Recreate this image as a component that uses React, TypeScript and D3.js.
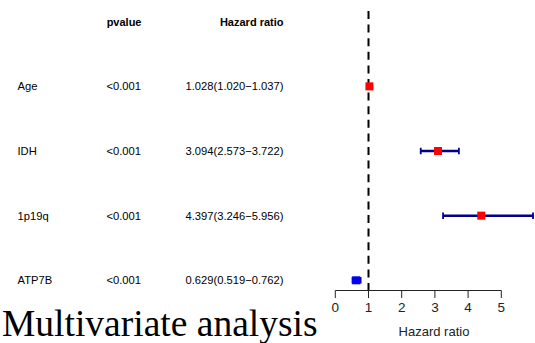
import React from "react";
import * as d3 from "d3";

// Multivariate Cox regression results
const variables = ["Age", "IDH", "1p19q", "ATP7B"];
const pvalues = ["<0.001", "<0.001", "<0.001", "<0.001"];
const hazardRatio = [1.028, 3.094, 4.397, 0.629];
const ciLower = [1.02, 2.573, 3.246, 0.519];
const ciUpper = [1.037, 3.722, 5.956, 0.762];
const xTicks = [0, 1, 2, 3, 4, 5];

const W = 535;
const H = 343;
const SANS = "'Liberation Sans', Arial, Helvetica, sans-serif";
const SERIF = "'Liberation Serif', 'Times New Roman', serif";

export default function App() {
  const x = d3.scaleLinear().domain([0, 5]).range([335.3, 501.3]);
  const y = d3
    .scalePoint<string>()
    .domain(["__header__", ...variables])
    .range([21.7, 280.3]);

  const axisY = 290.5;
  const dashTop = 11;
  const box = 8;
  const capH = 6.5;
  const fmt = d3.format(".3f");
  const hrText = (i: number) =>
    `${fmt(hazardRatio[i])}(${fmt(ciLower[i])}\u2212${fmt(ciUpper[i])})`;

  return (
    <svg
      width={W}
      height={H}
      style={{ position: "absolute", left: 0, top: 0, background: "#fff" }}
    >
      {/* table headers */}
      <g fontFamily={SANS} fontSize={11} fontWeight="bold" fill="#000">
        <text x={141.5} y={(y("__header__") as number) + 4} textAnchor="end">
          pvalue
        </text>
        <text x={283.5} y={(y("__header__") as number) + 4} textAnchor="end">
          Hazard ratio
        </text>
      </g>

      {/* table rows */}
      <g fontFamily={SANS} fontSize={11.2} fill="#000">
        {variables.map((v, i) => {
          const cy = y(v) as number;
          return (
            <g key={v}>
              <text x={17.5} y={cy + 4}>
                {v}
              </text>
              <text x={141} y={cy + 4} textAnchor="end">
                {pvalues[i]}
              </text>
              <text x={283.5} y={cy + 4} textAnchor="end">
                {hrText(i)}
              </text>
            </g>
          );
        })}
      </g>

      {/* reference line at HR = 1 */}
      <line
        x1={x(1)}
        x2={x(1)}
        y1={dashTop}
        y2={axisY}
        stroke="#000"
        strokeWidth={2}
        strokeDasharray="8,5.6"
      />

      {/* confidence intervals */}
      <g stroke="#00008B" strokeWidth={2.5} fill="none">
        {variables.map((v, i) => {
          const cy = y(v) as number;
          return (
            <g key={v}>
              <line x1={x(ciLower[i])} x2={x(ciUpper[i])} y1={cy} y2={cy} />
              <line
                x1={x(ciLower[i])}
                x2={x(ciLower[i])}
                y1={cy - capH / 2}
                y2={cy + capH / 2}
                strokeWidth={1.8}
              />
              <line
                x1={x(ciUpper[i])}
                x2={x(ciUpper[i])}
                y1={cy - capH / 2}
                y2={cy + capH / 2}
                strokeWidth={1.8}
              />
            </g>
          );
        })}
      </g>

      {/* hazard ratio points */}
      {variables.map((v, i) => {
        const cy = y(v) as number;
        const color = hazardRatio[i] > 1 ? "#FF0000" : "#0000FF";
        return (
          <rect
            key={v}
            x={x(hazardRatio[i]) - box / 2}
            y={cy - box / 2}
            width={box}
            height={box}
            fill={color}
          />
        );
      })}

      {/* x axis */}
      <g stroke="#222" strokeWidth={1}>
        <line x1={x(0)} x2={x(5)} y1={axisY} y2={axisY} />
        {xTicks.map((t) => (
          <line key={t} x1={x(t)} x2={x(t)} y1={axisY} y2={axisY + 7.5} />
        ))}
      </g>
      <g fontFamily={SANS} fontSize={13.5} fill="#222" textAnchor="middle">
        {xTicks.map((t) => (
          <text key={t} x={x(t)} y={axisY + 21.5}>
            {t}
          </text>
        ))}
      </g>
      <text
        x={434}
        y={336}
        fontFamily={SANS}
        fontSize={13}
        fill="#222"
        textAnchor="middle"
      >
        Hazard ratio
      </text>

      {/* title */}
      <text x={2} y={335.5} fontFamily={SERIF} fontSize={37.5} fill="#000">
        Multivariate analysis
      </text>
    </svg>
  );
}
